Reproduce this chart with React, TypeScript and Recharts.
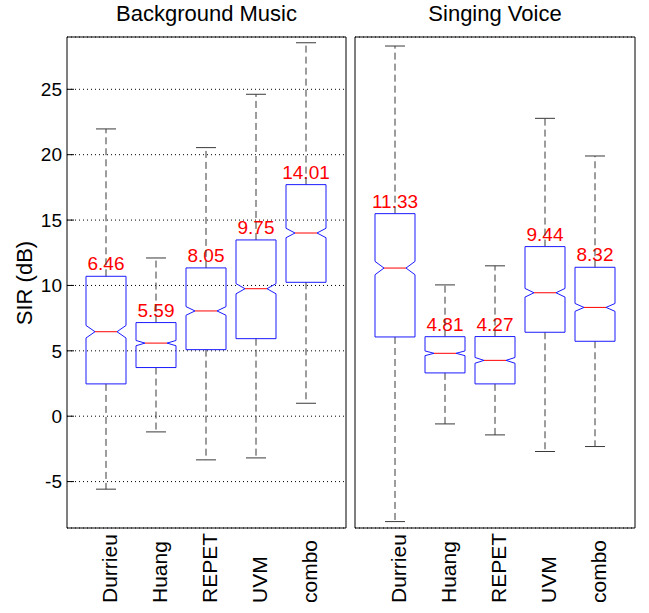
import React from 'react';
import { ComposedChart, Bar, XAxis, YAxis, CartesianGrid } from 'recharts';

const categories = ['Durrieu', 'Huang', 'REPET', 'UVM', 'combo'];

// Background Music
const bgWhiskerLow = [-5.58, -1.2, -3.34, -3.19, 0.99];
const bgQ1 = [2.47, 3.72, 5.09, 5.93, 10.24];
const bgMedian = [6.46, 5.59, 8.05, 9.75, 14.01];
const bgQ3 = [10.7, 7.16, 11.34, 13.48, 17.71];
const bgWhiskerHigh = [21.97, 12.1, 20.54, 24.62, 28.56];
const bgNotch = [0.48, 0.2, 0.33, 0.39, 0.36];

// Singing Voice
const svWhiskerLow = [-8.06, -0.59, -1.43, -2.7, -2.32];
const svQ1 = [6.06, 3.31, 2.47, 6.42, 5.73];
const svMedian = [11.33, 4.81, 4.27, 9.44, 8.32];
const svQ3 = [15.49, 6.08, 6.09, 12.97, 11.39];
const svWhiskerHigh = [28.31, 10.04, 11.5, 22.78, 19.9];
const svNotch = [0.51, 0.18, 0.22, 0.33, 0.3];

const yTicks = [-5, 0, 5, 10, 15, 20, 25];
const yDomain: [number, number] = [-8.55, 29];

const FONT = '"Liberation Sans", Arial, Helvetica, sans-serif';

function buildRows(lo: number[], q1: number[], med: number[], q3: number[], hi: number[], notch: number[]) {
  return categories.map((name, i) => ({
    name,
    lo: lo[i],
    q1: q1[i],
    med: med[i],
    q3: q3[i],
    hi: hi[i],
    notch: notch[i],
    range: [q1[i], q3[i]],
  }));
}

const bgRows = buildRows(bgWhiskerLow, bgQ1, bgMedian, bgQ3, bgWhiskerHigh, bgNotch);
const svRows = buildRows(svWhiskerLow, svQ1, svMedian, svQ3, svWhiskerHigh, svNotch);

function BoxShape(props: any) {
  const { x, y, width, height, payload } = props;
  if (!payload || width == null) return null;
  const { lo, q1, med, q3, hi, notch } = payload;
  const top = Math.min(y, y + height);
  const h = Math.abs(height);
  const ppu = h / (q3 - q1);
  const py = (v: number) => top + (q3 - v) * ppu;
  const cx = x + width / 2;
  const hw = width / 2;
  const inset = 9;
  const cap = 10;
  const yQ3 = py(q3);
  const yQ1 = py(q1);
  const yMed = py(med);
  const yNH = py(med + notch);
  const yNL = py(med - notch);
  const pts = [
    [cx - hw, yQ3],
    [cx + hw, yQ3],
    [cx + hw, yNH],
    [cx + hw - inset, yMed],
    [cx + hw, yNL],
    [cx + hw, yQ1],
    [cx - hw, yQ1],
    [cx - hw, yNL],
    [cx - hw + inset, yMed],
    [cx - hw, yNH],
  ]
    .map((p) => p.join(','))
    .join(' ');
  const wc = '#3a3a3a';
  return (
    <g>
      <text
        x={cx}
        y={yQ3 - 6}
        textAnchor="middle"
        fontSize={19}
        fontFamily={FONT}
        fill="#ff0000"
      >
        {med.toFixed(2)}
      </text>
      <line x1={cx} x2={cx} y1={yQ3} y2={py(hi)} stroke={wc} strokeWidth={1} strokeDasharray="7 4" />
      <line x1={cx} x2={cx} y1={yQ1} y2={py(lo)} stroke={wc} strokeWidth={1} strokeDasharray="7 4" />
      <line x1={cx - cap} x2={cx + cap} y1={py(hi)} y2={py(hi)} stroke={wc} strokeWidth={1} />
      <line x1={cx - cap} x2={cx + cap} y1={py(lo)} y2={py(lo)} stroke={wc} strokeWidth={1} />
      <polygon points={pts} fill="none" stroke="#1a1aff" strokeWidth={1} />
      <line x1={cx - hw + inset} x2={cx + hw - inset} y1={yMed} y2={yMed} stroke="#ff0000" strokeWidth={1} />
    </g>
  );
}

const XTick = (props: any) => {
  const { x, y, payload } = props;
  return (
    <text
      transform={`translate(${x + 11},${y + 75}) rotate(-90)`}
      textAnchor="start"
      fontSize={21}
      fontFamily={FONT}
      fill="#000"
    >
      {payload.value}
    </text>
  );
};

type PanelProps = {
  rows: any[];
  width: number;
  margin: { top: number; right: number; bottom: number; left: number };
  leftAxisWidth: number;
  showLabels: boolean;
  padding: { left: number; right: number };
};

function Panel({ rows, width, margin, leftAxisWidth, showLabels, padding }: PanelProps) {
  return (
    <ComposedChart width={width} height={613} data={rows} margin={margin}>
      <CartesianGrid vertical={false} stroke="#000" strokeDasharray="1 3" />
      <XAxis
        dataKey="name"
        type="category"
        padding={padding}
        axisLine={{ stroke: '#000' }}
        tickLine={false}
        tickSize={0}
        tickMargin={0}
        height={85}
        interval={0}
        tick={<XTick />}
      />
      <XAxis
        xAxisId="top"
        dataKey="name"
        type="category"
        orientation="top"
        padding={padding}
        height={1}
        axisLine={{ stroke: '#000' }}
        tick={false}
        tickLine={false}
      />
      <YAxis
        type="number"
        domain={yDomain}
        ticks={yTicks}
        allowDataOverflow
        width={leftAxisWidth}
        axisLine={{ stroke: '#000' }}
        tickLine={{ stroke: '#000' }}
        tickSize={-7}
        tickMargin={12}
        tick={showLabels ? { fontSize: 19, fontFamily: FONT, fill: '#000' } : false}
        interval={0}
      />
      <YAxis
        yAxisId="r"
        orientation="right"
        type="number"
        domain={yDomain}
        ticks={yTicks}
        allowDataOverflow
        width={1}
        axisLine={{ stroke: '#000' }}
        tickLine={{ stroke: '#000' }}
        tickSize={-7}
        tick={false}
        interval={0}
      />
      <Bar dataKey="range" barSize={40} isAnimationActive={false} shape={<BoxShape />} />
    </ComposedChart>
  );
}

export default function App() {
  return (
    <div style={{ position: 'absolute', left: 0, top: 0, width: 649, height: 613, background: '#fff' }}>
      <div style={{ position: 'absolute', left: 0, top: 0 }}>
        <Panel
          rows={bgRows}
          width={350}
          margin={{ top: 36, right: 3, bottom: 0, left: 0 }}
          leftAxisWidth={67}
          showLabels
          padding={{ left: 14, right: 15 }}
        />
      </div>
      <div style={{ position: 'absolute', left: 350, top: 0 }}>
        <Panel
          rows={svRows}
          width={299}
          margin={{ top: 36, right: 13, bottom: 0, left: 4 }}
          leftAxisWidth={1}
          showLabels={false}
          padding={{ left: 15, right: 15 }}
        />
      </div>
      <svg
        width={649}
        height={613}
        style={{ position: 'absolute', left: 0, top: 0, pointerEvents: 'none' }}
      >
        <text x={206.5} y={21} textAnchor="middle" fontSize={22} fontFamily={FONT} fill="#000">
          Background Music
        </text>
        <text x={495} y={21} textAnchor="middle" fontSize={22} fontFamily={FONT} fill="#000">
          Singing Voice
        </text>
        <text
          transform="translate(32,283) rotate(-90)"
          textAnchor="middle"
          fontSize={22}
          fontFamily={FONT}
          fill="#000"
        >
          SIR (dB)
        </text>
      </svg>
    </div>
  );
}
